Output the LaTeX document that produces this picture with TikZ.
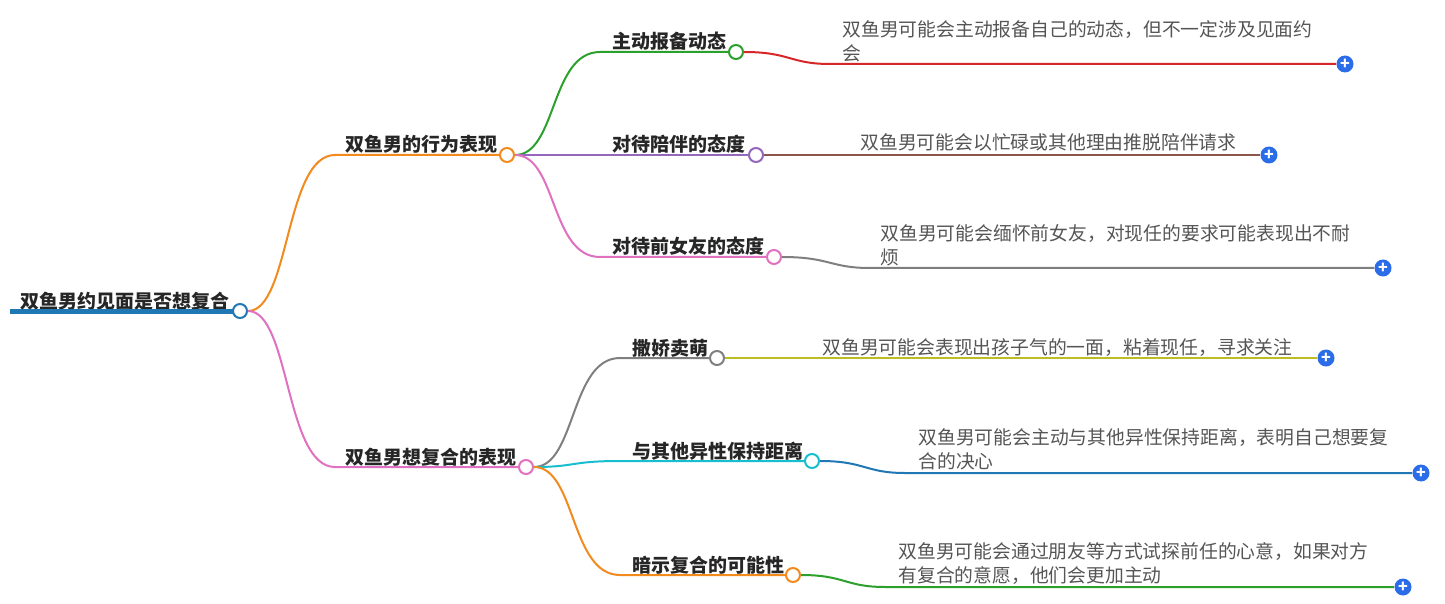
\documentclass[tikz,border=0pt]{standalone}
\usepackage{fontspec}
\setmainfont{Noto Sans CJK SC}
\usetikzlibrary{positioning}
\definecolor{corange}{HTML}{F28A1E}
\definecolor{cpink}{HTML}{E070C0}
\definecolor{cgreen}{HTML}{2CA02C}
\definecolor{cpurple}{HTML}{9467BD}
\definecolor{cgray}{HTML}{7F7F7F}
\definecolor{ccyan}{HTML}{17BECF}
\definecolor{cblue}{HTML}{1F77B4}
\definecolor{cred}{HTML}{D62728}
\definecolor{cbrown}{HTML}{8C564B}
\definecolor{colive}{HTML}{BCBD22}
\definecolor{cplus}{HTML}{2B6DE8}
\definecolor{ctext}{HTML}{555555}
\begin{document}
\begin{tikzpicture}[x=0.5pt,y=-0.5pt]
\tikzstyle{dot}=[circle,draw,fill=white,line width=1pt,inner sep=0pt,minimum size=7pt]
\tikzstyle{plus}=[circle,fill=cplus,inner sep=0pt,minimum size=8.5pt,text=white,font=\bfseries\fontsize{8}{8}\selectfont]
\tikzstyle{topic}=[anchor=base west,inner sep=0pt,font=\bfseries\fontsize{9.5}{9.5}\selectfont,text=black!85]
\tikzstyle{leaf}=[anchor=base west,inner sep=0pt,align=left,font=\fontsize{9.4}{12}\selectfont,text=ctext]
\tikzstyle{link}=[line width=1pt]
\useasboundingbox (0,0) rectangle (1445,604);

% root
\node[topic] (roott) at (20,308) {双鱼男约见面是否想复合};
\draw[cblue,line width=2.5pt] (10,311) -- (233,311);
\node[dot,draw=cblue] (root) at (240,311) {};

% branches
\node[topic] (b1t) at (345,152) {双鱼男的行为表现};
\node[dot,draw=corange] (b1) at (507,155) {};
\coordinate (b1s) at (335,155);
\draw[link,corange] (root) .. controls (290,311) and (285,155) .. (b1s) -- (b1);
\node[topic] (b2t) at (345,464) {双鱼男想复合的表现};
\node[dot,draw=cpink] (b2) at (526,467) {};
\coordinate (b2s) at (335,467);
\draw[link,cpink] (root) .. controls (290,311) and (285,467) .. (b2s) -- (b2);

% children
\foreach \nm/\txt/\tx/\cx/\y/\col/\up in {
 c1/主动报备动态/612/736/52/cgreen/b1,
 c2/对待陪伴的态度/612/756/155/cpurple/b1,
 c3/对待前女友的态度/612/774/257/cpink/b1,
 c4/撒娇卖萌/632/717/358/cgray/b2,
 c5/与其他异性保持距离/632/812/461/ccyan/b2,
 c6/暗示复合的可能性/632/793/575/corange/b2}{
 \node[topic] (\nm t) at (\tx,\y-3) {\txt};
 \coordinate (\nm s) at (\tx-12,\y);
 \node[dot,draw=\col] (\nm) at (\cx,\y) {};
 \draw[link,\col] (\up) .. controls ([xshift=25pt]\up) and ([xshift=-25pt]\nm s) .. (\nm s) -- (\nm);
}

% leaves
\node[leaf] (l1t) at (842,61) {双鱼男可能会主动报备自己的动态，但不一定涉及见面约\\会};
\node[plus] (p1) at (1345,64) {+};
\draw[link,cred] (c1) .. controls (790,52) and (790,64) .. (830,64) -- (p1);

\node[leaf] (l2t) at (860,150) {双鱼男可能会以忙碌或其他理由推脱陪伴请求};
\node[plus] (p2) at (1269,155) {+};
\draw[link,cbrown] (c2) -- (p2);

\node[leaf] (l3t) at (880,264) {双鱼男可能会缅怀前女友，对现任的要求可能表现出不耐\\烦};
\node[plus] (p3) at (1383,268) {+};
\draw[link,cgray] (c3) .. controls (830,257) and (830,268) .. (870,268) -- (p3);

\node[leaf] (l4t) at (822,354) {双鱼男可能会表现出孩子气的一面，粘着现任，寻求关注};
\node[plus] (p4) at (1326,358) {+};
\draw[link,colive] (c4) -- (p4);

\node[leaf] (l5t) at (918,468) {双鱼男可能会主动与其他异性保持距离，表明自己想要复\\合的决心};
\node[plus] (p5) at (1421,473) {+};
\draw[link,cblue] (c5) .. controls (865,461) and (865,473) .. (905,473) -- (p5);

\node[leaf] (l6t) at (898,582) {双鱼男可能会通过朋友等方式试探前任的心意，如果对方\\有复合的意愿，他们会更加主动};
\node[plus] (p6) at (1403,587) {+};
\draw[link,cgreen] (c6) .. controls (845,575) and (845,587) .. (885,587) -- (p6);
\end{tikzpicture}
\end{document}
